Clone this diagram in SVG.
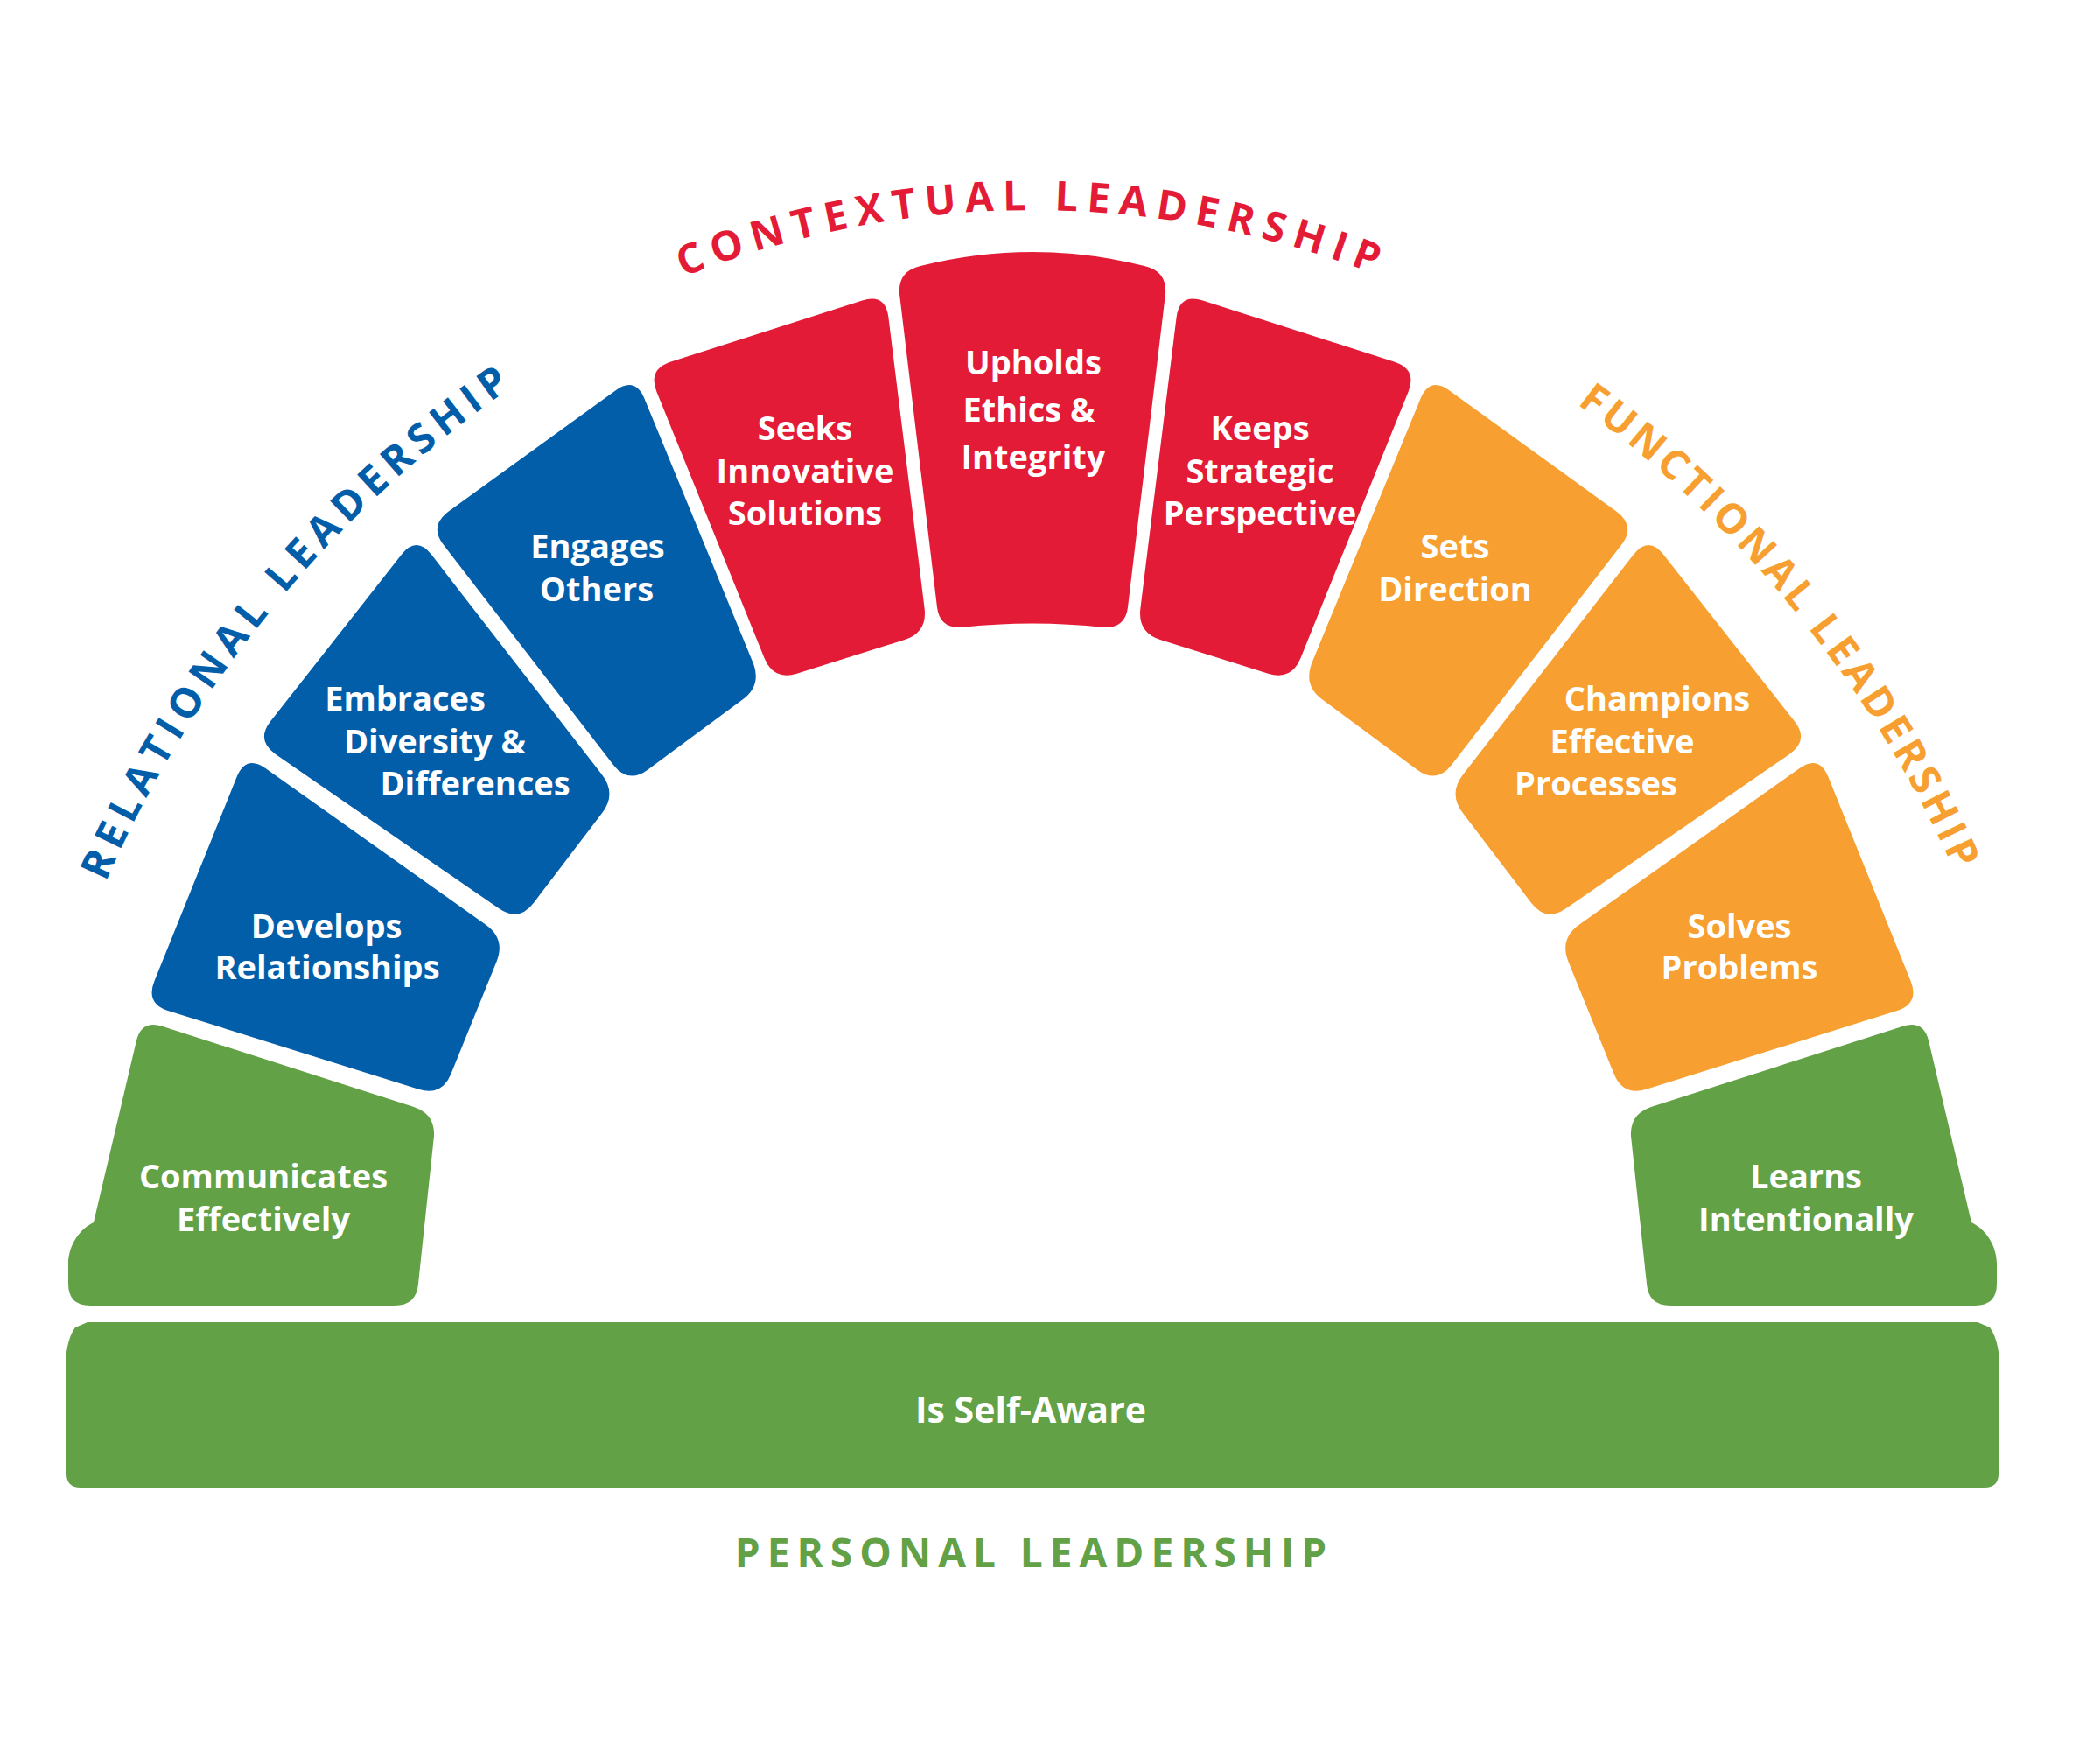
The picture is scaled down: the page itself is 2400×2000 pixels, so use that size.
<svg xmlns="http://www.w3.org/2000/svg" width="2400" height="2000" viewBox="0 0 2400 2000">
<style>
.green{fill:#62A145}
.blue{fill:#035EAA}
.red{fill:#E41B36}
.orange{fill:#F79F30}
.lbl{font-family:"Open Sans","Liberation Sans",sans-serif;font-weight:700;font-size:38px;fill:#FFFFFF;text-anchor:middle}
.arc{font-family:"Open Sans","Liberation Sans",sans-serif;font-weight:700;font-size:47px}
.pers{font-family:"Open Sans","Liberation Sans",sans-serif;font-weight:700;font-size:46px;letter-spacing:8px;text-anchor:middle;fill:#62A145}
</style>
<defs>
<path id="shpComm" d="M 186,1173 L 473,1265 Q 497,1273 496,1298 L 478,1467 Q 476,1492 451,1492 L 103,1492 Q 78,1492 78,1467 L 78,1445 C 78,1422 92,1404 107,1397 L 156,1189 Q 162,1165 186,1173 Z"/>
<path id="shpDev" d="M 303.8,878.2 L 555.2,1056.8 Q 578,1073 567.5,1099 L 515.5,1227 Q 505,1253 478.3,1244.7 L 192.7,1155.3 Q 166,1147 176.5,1121 L 270.5,888 Q 281,862 303.8,878.2 Z"/>
<path id="shpEmb" d="M 493.2,634.1 L 687.8,884.9 Q 705,907 688,929.3 L 610,1031.7 Q 593,1054 570,1038.1 L 315,861.9 Q 292,846 309.3,824 L 458.7,634 Q 476,612 493.2,634.1 Z"/>
<path id="shpEng" d="M 736.6,455.9 L 860.4,757.1 Q 871,783 848.5,799.6 L 740.5,879.4 Q 718,896 700.9,873.9 L 507.1,623.1 Q 490,601 512.7,584.6 L 703.3,446.4 Q 726,430 736.6,455.9 Z"/>
<path id="shpSeek" d="M 766.7,413.5 L 985.3,343.5 Q 1012,335 1015.4,362.8 L 1056.6,695.2 Q 1060,723 1033.3,731.3 L 910.7,769.7 Q 884,778 873.5,752 L 750.5,448 Q 740,422 766.7,413.5 Z"/>
<path id="arcC" d="M 485.8,492.7 A 1080 1080 0 0 1 1874.2,492.7" fill="none"/>
<path id="arcR" d="M 10,1541 A 1337 1337 0 0 1 1114.9,224.3" fill="none"/>
<path id="arcF" d="M 1245.1,224.3 A 1337 1337 0 0 1 2350,1541" fill="none"/>
</defs>

<g id="communicates-effectively">
<use href="#shpComm" class="green"/>
<text class="lbl"><tspan x="301" y="1358">Communicates</tspan><tspan x="301" y="1407">Effectively</tspan></text>
</g>
<g id="develops-relationships">
<use href="#shpDev" class="blue"/>
<text class="lbl"><tspan x="373" y="1072">Develops</tspan><tspan x="374" y="1119">Relationships</tspan></text>
</g>
<g id="embraces-diversity">
<use href="#shpEmb" class="blue"/>
<text class="lbl"><tspan x="463" y="812">Embraces</tspan><tspan x="497" y="861">Diversity &amp;</tspan><tspan x="543" y="909">Differences</tspan></text>
</g>
<g id="engages-others">
<use href="#shpEng" class="blue"/>
<text class="lbl"><tspan x="683" y="638">Engages</tspan><tspan x="682" y="687">Others</tspan></text>
</g>
<g id="seeks-innovative-solutions">
<use href="#shpSeek" class="red"/>
<text class="lbl"><tspan x="920" y="503">Seeks</tspan><tspan x="920" y="552">Innovative</tspan><tspan x="920" y="600">Solutions</tspan></text>
</g>
<g id="upholds-ethics">
<path class="red" d="M 1052,304 Q 1180,272 1308,304 Q 1334,310 1332,336 L 1289,694 Q 1286,718 1262,717 Q 1180,708 1098,717 Q 1074,718 1071,694 L 1028,336 Q 1026,310 1052,304 Z"/>
<text class="lbl"><tspan x="1181" y="428">Upholds</tspan><tspan x="1176" y="482">Ethics &amp;</tspan><tspan x="1181" y="536">Integrity</tspan></text>
</g>
<g id="keeps-strategic-perspective">
<use href="#shpSeek" class="red" transform="matrix(-1 0 0 1 2360 0)"/>
<text class="lbl"><tspan x="1440" y="503">Keeps</tspan><tspan x="1440" y="552">Strategic</tspan><tspan x="1440" y="600">Perspective</tspan></text>
</g>
<g id="sets-direction">
<use href="#shpEng" class="orange" transform="matrix(-1 0 0 1 2360 0)"/>
<text class="lbl"><tspan x="1663" y="638">Sets</tspan><tspan x="1663" y="687">Direction</tspan></text>
</g>
<g id="champions-effective-processes">
<use href="#shpEmb" class="orange" transform="matrix(-1 0 0 1 2360 0)"/>
<text class="lbl"><tspan x="1894" y="812">Champions</tspan><tspan x="1854" y="861">Effective</tspan><tspan x="1824" y="909">Processes</tspan></text>
</g>
<g id="solves-problems">
<use href="#shpDev" class="orange" transform="matrix(-1 0 0 1 2360 0)"/>
<text class="lbl"><tspan x="1988" y="1072">Solves</tspan><tspan x="1988" y="1119">Problems</tspan></text>
</g>
<g id="learns-intentionally">
<use href="#shpComm" class="green" transform="matrix(-1 0 0 1 2360 0)"/>
<text class="lbl"><tspan x="2064" y="1358">Learns</tspan><tspan x="2064" y="1407">Intentionally</tspan></text>
</g>
<g id="is-self-aware">
<path class="green" d="M 100,1511 L 2260,1511 L 2274,1517 Q 2281,1526 2284,1545 L 2284,1684 Q 2284,1700 2268,1700 L 92,1700 Q 76,1700 76,1684 L 76,1545 Q 79,1526 86,1517 Z"/>
<text class="lbl" x="1178" y="1626" style="font-size:41px">Is Self-Aware</text>
</g>

<g id="labels">
<text class="arc" fill="#E41B36" letter-spacing="10"><textPath href="#arcC" startOffset="50%" text-anchor="middle">CONTEXTUAL LEADERSHIP</textPath></text>
<text class="arc" fill="#035EAA" letter-spacing="7.5"><textPath href="#arcR" startOffset="922" text-anchor="middle">RELATIONAL LEADERSHIP</textPath></text>
<text class="arc" fill="#F79F30" letter-spacing="4.5"><textPath href="#arcF" startOffset="960" text-anchor="middle">FUNCTIONAL LEADERSHIP</textPath></text>
<text class="pers" x="1182" y="1791">PERSONAL LEADERSHIP</text>
</g>
<g id="connectors"/>
</svg>
